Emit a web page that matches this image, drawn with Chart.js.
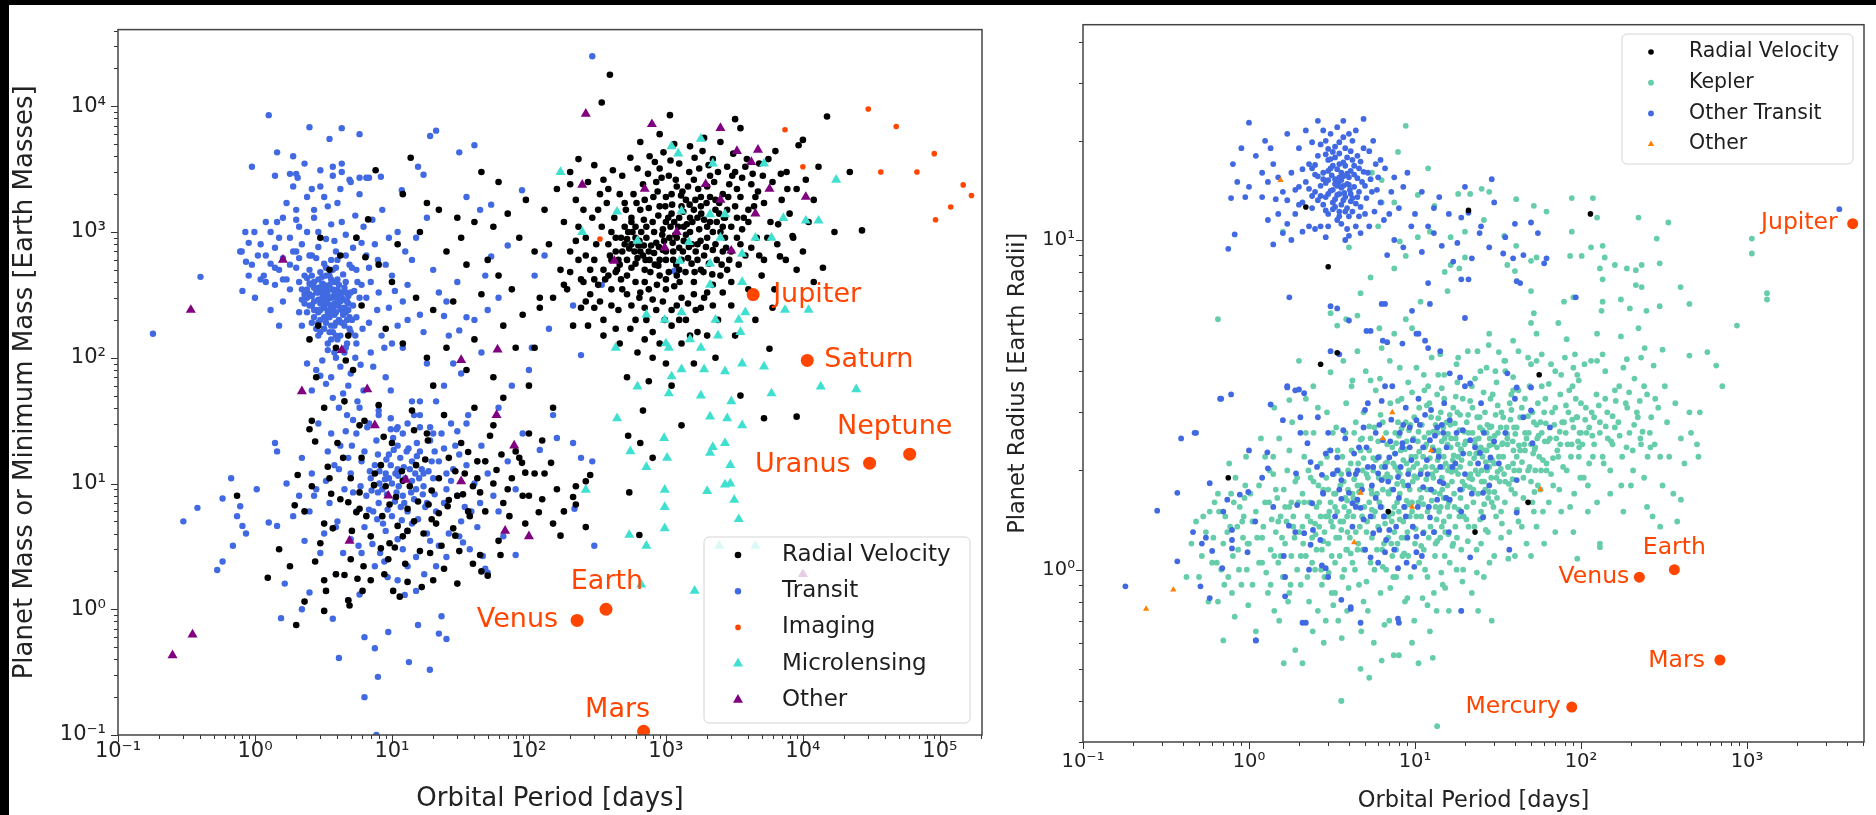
<!DOCTYPE html>
<html lang="en">
  <head>
    <meta charset="UTF-8" />
    <title>Exoplanets: mass and radius against orbital period</title>
    <script src="https://cdn.jsdelivr.net/npm/chart.js"></script>
    <style>
      body {
        margin: 0;
        width: 1876px;
        height: 815px;
        background: #000;
        position: relative;
        overflow: hidden;
      }
      .sheet {
        position: absolute;
        left: 9px;
        top: 5px;
        width: 1867px;
        height: 810px;
        background: #fff;
      }
      canvas {
        position: absolute;
        top: 5px;
      }
      #massChart { left: 9px; width: 991px; height: 810px; }
      #radiusChart { left: 1000px; width: 876px; height: 810px; }
    </style>
  </head>
  <body>
    <div class="sheet"></div>
    <canvas id="massChart" width="991" height="810"></canvas>
    <canvas id="radiusChart" width="876" height="810"></canvas>

    <script>
      // ---- left panel: [orbital period (days), mass (Earth masses)] ----
      const rvMass = [
        [390,17800],[340,10700],[15000,8300],[1070,8500],[3200,7900],[3500,6700],[10000,5400],[9300,4900],[22000,3000],
        [27000,1030],[17000,1000],[14000,520],[8400,930],[6800,640],[5700,118],[3500,50],[680,38],[5200,33],[9000,34],
        [540,8.5],[640,3.9],[1300,29],[800,16],[650,21],[530,24],
        [540,740],[600,900],[450,600],[700,500],[800,1200],[1000,700],[1200,900],[900,450],[650,1500],[380,800],
        [500,1100],[750,350],[1100,1400],[1300,600],[1500,1000],[350,500],[420,1300],[580,2000],[850,2500],[1100,2000],
        [1400,1800],[1700,1300],[2000,900],[2300,1500],[2600,700],[3000,1100],[1800,500],[1600,400],[1300,300],[950,280],
        [700,250],[520,320],[400,350],[300,600],[260,900],[320,1500],[380,2200],[480,2800],[620,3200],[760,4000],
        [900,3200],[1050,2800],[1250,3500],[1600,2600],[2000,2300],[2400,3000],[2900,2400],[3500,1900],[4200,2400],[5200,1700],
        [4000,1200],[3500,800],[2800,500],[2200,380],[1800,250],[1400,200],[1100,180],[800,160],[600,200],[450,240],
        [330,280],[250,400],[200,700],[180,1200],[220,1800],[270,2500],[300,3400],[550,3900],[650,5200],[900,6000],
        [1150,5000],[1500,4800],[1900,5600],[2500,5200],[3100,4200],[3800,3300],[4800,3500],[6000,2500],[7000,1800],[5800,1200],
        [4600,900],[5200,600],[6500,800],[8000,1400],[9000,2200],[2100,1200],[1700,800],[1350,1100],[1250,750],[950,1050],
        [850,820],[720,900],[680,650],[560,520],[480,700],[600,400],[760,600],[900,600],[1050,480],[1150,370],
        [1250,500],[1450,620],[1650,700],[1900,650],[2200,720],[2500,1000],[2700,1300],[3200,1600],[3700,1300],[4400,1600],
        [3300,900],[2900,600],[2500,450],[2000,330],[1600,320],[1200,260],[1000,350],[800,290],[640,300],[520,450],
        [440,500],[360,420],[320,380],[280,320],[240,250],[210,180],[350,150],[460,130],[620,110],[800,100],
        [1000,90],[1300,130],[1700,160],[2400,200],[3000,260],[4000,350],[5000,450],[6200,350],[9000,500],[11000,1200],
        [12000,1800],[10500,2600],[13000,3300],[7600,3000],[500,1700],[700,1800],[900,1600],[1150,1200],[1300,1600],[1600,1500],
        [1800,1900],[2100,2800],[2600,2000],[3200,3000],[430,900],[560,1200],[720,1100],[880,1350],[1000,1900],[1200,2300],
        [1450,2300],[1750,3200],[2200,3800],[2800,3300],[620,620],[780,780],[970,850],[1130,600],[1350,850],[1550,800],
        [1750,1050],[2000,1100],[2350,1200],[2700,900],[400,1000],[340,1100],[520,880],[660,1000],[820,1000],[1080,1100],
        [1250,1300],[1500,1300],[1800,1600],[2300,1800],[590,700],[690,780],[470,420],[400,600],[280,500],[230,600],
        [190,350],[170,500],[150,300],[140,800],[130,1500],[160,2200],[200,3000],[230,3800],[120,250],[110,120],
        [600,560],[750,700],[880,540],[1000,600],[470,900],[560,800],[640,850],[820,680],[950,720],[1120,820],
        [1400,950],[520,600],[430,700],[380,450],[700,400],[860,380],[1000,420],[1200,450],[300,420],[260,280],
        [560,1300],[610,1700],[680,2400],[740,2900],[830,3600],[960,4300],[1080,3700],[1180,2600],[1320,2100],[1480,3000],
        [1620,3900],[1850,4400],[2050,3400],[2250,2500],[2450,1700],[2650,1300],[2850,1900],[3050,2800],[3300,2200],[3600,2700],
        [3900,3800],[4300,2900],[4700,2100],[5100,2800],[5600,3800],[6300,4400],[6900,2900],[7700,2200],[350,2600],[410,3100],
        [460,2000],[510,1500],[570,1000],[630,780],[690,1250],[750,1550],[810,1900],[870,2100],[930,2700],[990,1600],
        [1040,1300],[1110,1650],[1170,950],[1230,1100],[1290,1950],[1340,1450],[1420,1150],[1490,1650],[1560,1200],[1640,1800],
        [1720,2200],[1810,1400],[1900,1250],[1980,1700],[2100,1900],[2200,1000],[2300,800],[2450,1400],[2600,1100],[2800,1500],
        [460,550],[500,800],[530,1000],[600,1100],[650,700],[710,600],[770,480],[830,550],[890,760],[940,950],
        [1000,1200],[1060,900],[1130,700],[1190,550],[1260,400],[1330,700],[1390,480],[1470,760],[1540,560],[1620,480],
        [1700,600],[1790,850],[1880,480],[1960,760],[2060,560],[2180,460],[2350,600],[2550,550],[2750,750],[3000,700],
        [3400,550],[3800,650],[4200,750],[4800,650],[5500,900],[6600,1150],[3300,1300],[3600,1050],[4000,1500],[4500,1900],
        [230,1100],[260,650],[290,1300],[310,800],[330,2000],[370,1700],[390,650],[430,480],[250,1500],[200,2400],
        [180,380],[200,480],[220,850],[240,420],[270,180],[300,250],[350,200],[400,260],[480,350],[560,260],
        [650,330],[720,200],[850,240],[980,200],[1100,240],[1250,200],[1450,270],[1650,240],[1900,300],[2200,260],
        [2600,330],[3000,400],[1500,150],[2000,150],[900,130],[700,140],[550,170],[430,170],[520,70],[750,65],
        [1100,60],[1600,90],[2300,100],[3200,150],[4500,200],[6000,250],[7500,600],[8500,900],[10000,700],[12000,400],
        [13.7,3900],[7.6,3100],[6.7,1260],[6.4,630],[12,2000],[18,1700],[22,1500],[30,1300],[40,1200],[55,1100],
        [70,1400],[85,900],[25,700],[35,550],[50,600],[60,450],[45,320],[28,280],[20,240],[15,300],
        [10,400],[8,550],[11,800],[16,1000],[32,900],[75,350],[90,220],[65,180],[40,140],[25,120],
        [18,100],[12,130],[9,170],[6,260],[20,60],[35,80],[55,70],[80,120],[100,60],[120,300],
        [110,700],[95,1800],[60,2500],[45,3000],[5.5,900],[4.2,650],[3.5,500],[3.0,900],[4.8,150],[5.2,80],
        [2.8,70],[2.9,180],[3.9,120],[4.6,95],[2.5,140],
        [2.05,11.7],[1.95,6.7],[2.75,21.6],[3.4,13.6],[3.6,8.3],[3.2,4.8],[3.7,4.4],[3.0,3.35],[2.75,2.4],[3.2,1.7],
        [3.3,1.4],[4.8,1.18],[4.9,1.07],[3.2,0.97],[2.0,0.75],[1.24,1.78],[0.74,8.0],[3.9,1.9],[4.5,1.87],[5.6,1.75],
        [7.0,1.7],[10.2,1.4],[11.4,1.26],[13,1.65],[20,1.7],[8.3,3.05],[9.4,2.5],[19,2.8],[31,2.9],[39,2.3],
        [50,1.85],[29,3.85],[60,3.5],[62,2.7],[94,4.8],[150,4.8],[170,3.85],[260,4.5],[210,7.8],[220,6.8],
        [260,10.4],[280,11.7],[125,22],[145,14.6],[100,25],[89,14.6],[94,12.2],[63,17],[58,12.8],[52,24],
        [55,29],[36,17.8],[32,21],[14.5,26.5],[18,25],[18.3,22],[10,21],[8.7,23.5],[5.8,29],[6.3,31.5],
        [4,21],[2.6,31.5],[2.5,27],[5.8,6.3],[5.5,5.9],[4.8,7.1],[5.8,8.5],[10.7,7.8],[13,6.3],[14.5,5],
        [18.5,6.8],[19.5,5.2],[16,2.9],[11,4.6],[9.6,3.35],[28,4.4],[44,2.7],[45,2.0],[25.5,6.6],[39,9.5],
        [44,8.5],[125,7.5],[118,5.9],[220,9.5],[7.5,12],[9,9.5],[12,10.5],[15,14],[22,11],[26,16],
        [30,8],[34,12],[42,15],[48,6],[70,9],[80,18],[110,12],[160,9],[6,16],[5,11],
        [3.2,40],[4.5,45],[8,42],[14,38],[24,35],[40,40],[65,48],[150,40],[1.5,3],[1.8,2.2],
        [2.3,1.15],[6.2,2.2],[8.5,5.5],[12,3.8],[17,4],[23,3.2],[36,6],[72,5.5],[90,8],
        [2.3,6],[2.6,9.5],[3.5,11],[4.2,7.5],[4.4,16],[5.1,4.2],[6.5,5.5],[7.4,9.7],[8.3,14],[9.6,6.8],
        [10.5,3.1],[11.8,12.5],[13.5,9.5],[15.5,7.2],[17.5,15.5],[19.5,8.8],[22,5.8],[26,7.4],[29,12.5],[33,8.2],
        [37,5.5],[42,11],[48,15],[55,10],[65,7],[75,11],[85,16],[100,8],[130,12],[180,6],
        [6.1,1.4],[8.8,1.9],[12.5,2.3],[16.5,1.5],[24,2.1],[30,1.6],[5,2.5],[7,3.8],[13,4.2],[21,4.8]
      ];
      const transitMass = [
        [0.18,155],[0.4,440],[0.81,340],[0.99,1000],[0.78,700],[0.86,580],[1.16,450],[1.45,1200],[1.26,8500],[4.3,6700],
        [5.8,6000],[19,5800],[21,6400],[40,4900],[31,4300],[0.95,3300],[1.45,4300],[1.9,4000],[1.8,2900],[2.05,2700],
        [3.7,3300],[4.3,3000],[5.8,2700],[6.8,2700],[8.3,2750],[15.5,3300],[17,2850],[11.8,2150],[35,1900],[44,1500],
        [53,1650],[70,780],[89,2150],[53,640],[48,450],[110,450],[130,650],[140,170],[240,105],[340,380],
        [1150,490],[105,120],[210,260],[50,240],[35,210],[24,215],[31,165],[290,25000],
        [0.3,5.0],[0.38,6.4],[0.53,2.05],[0.58,2.4],[0.69,3.2],[0.67,11],[0.58,7.6],[0.74,5.5],[0.78,6.6],[0.81,4.6],
        [0.86,4.0],[1.03,9.0],[1.26,4.9],[1.45,4.6],[1.4,21],[1.45,18],[1.65,1.6],[1.55,0.85],[2.2,1.0],[2.5,1.36],
        [3.7,0.84],[4.1,0.41],[6.3,0.6],[7.5,0.49],[7.9,0.29],[6.3,0.2],[7.7,0.1],[9.4,0.66],[13.3,0.38],[15.5,0.75],
        [18.9,0.33],[23,0.88],[25,0.58],[22,0.64],[4.8,1.18],[5.8,1.31],[11,1.7],[3.9,1.9],[15,1.4],[300,3.2],
        [215,6.3],[290,15],[240,16],[210,21],[120,18.5],[160,23],[80,2.7],[46,2.65],[48,2.1],[50,1.95],[37,3.0],
        [3.5,300],[3.2,250],[2.9,420],[4.1,380],[2.5,500],[3.8,220],[4.5,180],[2.2,350],[3.0,160],[3.6,600],
        [2.7,280],[4.8,310],[3.3,450],[2.4,230],[4.0,140],[5.2,260],[3.9,520],[3.1,330],[4.3,240],[2.6,190],
        [3.4,130],[5.6,400],[2.8,620],[4.6,120],[3.7,350],[5.0,160],[4.4,460],[2.6,380],[3.3,210],[5.3,340],
        [2.9,150],[4.9,550],[3.8,110],[2.2,180],[4.0,270],[3.6,420],[2.5,320],[3.2,560],[4.7,200],[2.8,240],
        [3.9,300],[3.4,270],[3.0,200],[4.2,330],[2.7,360],[3.6,180],[4.4,290],[3.1,390],[3.7,250],[2.9,290],
        [4.6,230],[3.5,210],[2.4,430],[3.3,350],[4.1,200],[3.8,400],[2.6,260],[3.0,480],[5.5,210],[4.9,170],
        [4.2,150],[3.6,140],[5.8,300],[3.2,170],[2.3,270],[4.5,360],[3.4,310],[2.8,330],[4.0,420],[3.9,230],
        [3.1,270],[4.7,280],[2.7,210],[3.5,380],[3.7,160],[5.1,200],[3.0,240],[2.5,390],[3.3,290],[4.3,300],
        [2.9,360],[2.1,400],[3.5,240],[4.8,240],[2.0,520],[3.9,190],[2.6,450],[4.2,250],[3.2,320],[3.8,270],
        [2.3,320],[5.4,150],[2.9,190],[3.6,300],[4.6,330],[2.4,300],
        [3.4,340],[3.0,270],[3.8,320],[2.7,400],[4.2,280],[3.2,380],[2.5,260],[3.6,230],[4.5,250],[2.9,330],
        [3.3,190],[4.0,350],[3.1,440],[3.9,260],[2.6,310],[4.8,270],[3.5,160],[2.2,290],[4.3,190],[3.7,500],
        [2.8,170],[5.0,330],[3.4,230],[2.4,350],[4.1,310],[3.0,350],[3.6,260],[2.9,230],[4.6,400],[3.2,210],
        [3.8,180],[2.7,240],[4.4,220],[3.1,300],[3.5,450],[2.3,450],[4.9,210],[3.3,520],[2.6,650],[4.0,600],
        [5.5,500],[6.0,380],[6.5,300],[2.0,700],[1.8,550],[1.6,420],[1.4,520],[2.1,230],[3.9,150],[4.7,130],
        [3.1,95],[4.2,85],[5,75],[3.6,70],[2.8,80],[4.8,60],[6.2,55],[5.4,100],[3.9,100],[2.4,90],
        [3.3,62],[4.5,110],[3.7,48],[5.6,45],[4.1,40],[2.6,55],[3.4,115],[5.9,88],[4.4,52],[3.0,72],
        [1.5,500],[1.4,380],[1.2,650],[1.6,280],[1.8,900],[1.3,1000],[1.1,800],[0.9,450],[0.8,700],[1.0,300],
        [0.95,550],[1.3,240],[1.5,180],[1.2,400],[2.1,1100],[2.7,1300],[3.4,1600],[2.4,1900],[4.3,1200],[3.0,2300],
        [2.0,1500],[5.5,900],[6.5,650],[7.0,400],[8.0,330],[6.2,1100],[7.5,800],[9.0,550],[10,450],[8.5,1500],
        [11,1000],[5.8,2000],[4.9,2600],[3.7,2800],[2.6,2200],[1.7,1700],[1.4,2800],[2.3,3500],[3.5,5500],[2.5,6800],
        [2.0,2900],[4.3,3500],[5,2500],[6.5,2700],[3.2,1900],[2.7,1500],[2.9,1000],[3.8,850],[4.6,950],[5.2,750],
        [6.8,520],[1.9,700],[1.6,620],[1.3,560],[1.1,420],[1.7,420],[2.2,800],[2.5,650],[2.1,620],[1.8,350],
        [1.4,750],[2.9,760],[3.3,880],[2.4,1000],[3.9,700],[4.6,650],[5.1,520],[2.0,1250],[1.6,1300],[1.2,1200],
        [1.5,900],[3.6,1150],[4.0,1700],[5.4,1350],[7.2,1250],[6.0,820],[7.9,600],[9.5,900],[12.5,700],[4.2,2200],
        [3.0,3100],[1.9,2300],[0.85,1000],[0.9,820],[1.05,650],
        [12,280],[14,600],[15,900],[18,1300],[13,380],[16,220],[20,500],[22,330],[9.5,250],[11,180],
        [7.8,240],[6.1,170],[5.5,130],[7.0,110],[8.4,150],[10,130],[12,120],[26,150],[30,400],[18,90],
        [24,60],[14,45],[9,70],[8,35],[11,28],[16,35],[20,25],[28,90],[40,200],[60,300],
        [45,110],[75,60],[60,40],[35,30],[100,80],[150,35],[25,280],[17,160],[13,200],[7.3,85],
        [6.6,28],[5.2,32],[4.6,26],[9.8,55],[21,45],[32,75],[6.8,190],[8.8,120],[10.5,340],
        [10,10],[12,8],[9,12],[14,15],[8,7],[11,20],[15,9],[13,6],[17,12],[7.5,14],
        [10,5.5],[16,18],[12,25],[9.5,17],[18,7],[20,11],[8.5,9],[11,13],[14,4.8],[6.5,8],
        [7,11],[5.5,6],[6,15],[13,30],[16,28],[19,22],[22,15],[25,9],[21,6],[28,13],
        [24,19],[30,8],[35,14],[32,5],[26,4],[40,10],[45,20],[38,6],[50,12],[55,8],
        [4.5,9],[4.0,5],[3.5,7],[5.0,12],[3.2,4],[2.8,9],[2.5,6],[3.8,14],[4.2,20],[5.5,25],
        [6.8,30],[8,38],[9,4.2],[11,3.6],[7.2,3.3],[12,3],[15,2.6],[19,3.5],[6,2.8],[5,3.6],
        [4.4,2.8],[8.8,2.4],[10.5,7.2],[12.5,11],[14.5,7.5],[9.2,8.2],[7.8,5.2],[11.5,16],[13.5,13],[10.2,23],
        [17,9.5],[19.5,15],[23,25],[27,30],[15.5,5.2],[18,4],[22,3.2],[29,20],[33,3.4],[42,4.5],
        [60,6],[65,3.8],[70,15],[80,9],[90,25],[3.0,2.8],[2.3,3.5],[2.1,8],[2.6,12],[3.4,18],
        [3.6,25],[2.9,30],[4.7,35],[1.9,5.5],[1.7,10],[2.2,16],[5.8,40],[7.7,22],[9.8,33],[16,45],
        [6.3,4.5],[8.2,2.8],[13,2.2],[21,2.2],[11.2,9.5],[9.8,14],[12.8,18],[14,10.5],[16.5,13],[10.6,12],
        [8.9,10.8],[15.2,21],[12.3,7],[7.1,8.8],[6.3,18],[5.2,8.5],[4.8,16],[20.5,8.2],[25,12],[30,26],
        [36,35],[9.3,6.2],[11.8,5.1],[13.8,8.5],[15.8,11],[7.9,17],[10.8,27],[17.5,6.5],[8.1,12.5],[6.8,6.2],
        [9.5,11],[10.8,8.5],[12.2,13.5],[8.1,10],[11.6,6.5],[14.8,12],[7.3,6],[13.2,19],[16.8,8.2],[9.1,15.5],
        [18.5,12.5],[6.9,12.5],[10.3,18.5],[12.9,4.2],[15.2,16.5],[8.6,4.8],[20.5,18],[11.1,11.5],[5.9,9.5],[7.9,8.5],
        [24,7],[27,10.5],[31,17],[34,6.5],[19,28],[14.5,35],[9.8,27],[5.1,20],[4.1,13],[3.3,10.5],
        [2.7,8],[3.9,4.5],[5.7,3.2],[7.5,2.2],[9.3,1.8],[12.4,1.3],[17.2,1.9],[25,2.6],[31,3.8],[44,7]
      ];
      const imagingMass = [
        [7400,6500],[10000,3300],[30000,9500],[48000,6900],[37000,3000],[68000,3000],
        [91000,4200],[93000,1250],[148000,2370],[170000,1950],[120000,1580],[330,880]
      ];
      const microlensingMass = [
        [170,3000],[440,1450],[245,1000],[1100,4800],[1800,5500],[1230,4200],[2200,3500],[5200,3500],[17500,2600],[1300,1470],
        [2100,1380],[2700,1380],[7200,1290],[10500,1230],[13000,1230],[620,850],[1470,830],[2500,900],[4500,900],[5900,900],
        [1260,590],[2100,560],[3600,670],[2100,380],[3600,400],[720,220],[980,200],[1300,230],[2300,200],[3400,200],
        [3800,230],[7400,240],[11000,240],[1000,130],[1500,140],[2400,150],[3500,160],[430,120],[1050,120],[1800,120],
        [620,59],[1100,71],[1300,81],[1900,81],[2700,78],[3600,90],[5200,85],[13500,59],[24500,56],[1050,52],
        [1800,50],[3000,45],[5900,52],[440,33],[2100,34],[2800,33],[3600,29],[550,18],[970,23],[720,13.5],
        [1020,16],[2200,19.5],[2100,17.5],[2700,21],[2950,14],[260,8.9],[980,8.9],[2000,8.7],[2700,9.8],[2950,10],
        [3150,7.4],[3400,5.2],[980,6.5],[980,4.4],[540,3.9],[720,3.2],[2450,3.2],[4500,3.2],[660,1.57],[1620,1.4]
      ];
      const otherMass = [
        [0.25,0.43],[0.35,0.63],[0.34,240],[1.6,600],[260,8700],[790,7200],[2500,6700],[245,2370],[700,2200],[1950,2400],
        [3300,4400],[4700,4500],[4200,3600],[5700,2200],[10500,1900],[2500,1800],[4500,1400],[1200,1000],[980,750],[3000,710],
        [420,590],[4.3,115],[2.2,54],[6.6,56],[32,96],[59,116],[7.5,29],[58,35],[78,20],[12.6,10.7],
        [9.4,8],[32,10.4],[4.9,3.5],[67,4.2],[100,3.8],[10000,1.9]
      ];
      const massPlanetNames = ['Venus', 'Earth', 'Mars', 'Jupiter', 'Saturn', 'Uranus', 'Neptune'];
      const massPlanetPeriod = [224.7, 365.25, 687, 4333, 10759, 30687, 60190];
      const massPlanetMass = [0.815, 1, 0.107, 317.8, 95.2, 14.5, 17.1];

      // ---- right panel: [orbital period (days), radius (Earth radii)] ----
      const rvRadius = [
        [2.2,12.6],[21,12.3],[114,12],[3.0,8.3],[3.4,4.55],[2.7,4.2],[56,3.9],[0.75,1.9],[48,1.6],[23,1.3],[6.9,1.5]
      ];
      const keplerRadius = [
        [8.8,22.2],[7.9,18.5],[6.3,15.2],[6.3,13],[10.4,13.7],[13.1,12.7],[18.2,13.8],[21.5,13.8],[25.2,14.3],[28,14],
        [40.7,13.3],[52,12.7],[62,12.2],[88,13.4],[118,13.4],[125,11.7],[222,11.7],[336,11.3],[286,10.1],[135,9.6],
        [88,10.6],[115,9.5],[101,8.95],[86,8.95],[139,8.85],[160,8.4],[189,8.2],[214,8.1],[232,8.4],[298,8.5],
        [130,8.2],[135,7.6],[214,7.3],[232,7.2],[398,7.2],[450,6.4],[298,6.3],[248,6.1],[197,6.2],[174,6.6],
        [135,6.5],[133,6.1],[90,6.7],[79,6.5],[73,5.6],[82,5.0],[125,5.2],[174,5.1],[222,5.4],[242,4.7],
        [310,4.65],[189,4.35],[125,4.3],[90,4.1],[274,4.16],[450,4.46],[577,4.57],[653,4.16],[710,3.6],[50,7.0],
        [52,6.0],[50,5.6],[54,5.2],[39,4.95],[32,4.57],[34.5,4.3],[28,5.2],[15.7,7.0],[15.1,8.0],[16.4,8.4],
        [18.5,8.2],[20,8.85],[36,8.4],[40,8.05],[50,8.65],[54,8.85],[40.7,9.6],[34.5,10.3],[26,11.5],[20,10.6],
        [16.4,10.2],[12.3,10.6],[10.4,10.2],[8.1,9.9],[8.8,8.95],[7.5,8.2],[5.4,7.7],[4.7,6.9],[3.85,5.75],[3.4,5.5],
        [3.1,6.0],[4.5,5.9],[8.8,5.75],[10.8,6.5],[9.6,5.4],[7.5,5.2],[6.1,5.4],[6.3,4.7],[4.5,4.6],[3.7,4.3],
        [3.1,3.97],[4.2,3.75],[5.4,3.75],[8.1,4.1],[11.3,3.9],[14.2,4.5],[18.2,4.4],[23.8,4.6],[30.5,4.0],[39,3.84],
        [54,4.3],[76,3.9],[64,3.66],[97,3.75],[2.0,4.3],[2.44,3.6],[1.75,3.27],[0.65,5.75],[1.42,3.1],[1070,10.1],
        [1070,9.1],[1320,6.9],[1320,6.6],[870,5.5],[1.6,10.6],[5.5,16],[7.5,13],[6,11],[4,9.5],[12,16.5],
        [0.55,1.3],[0.6,1.05],[0.62,1.6],[0.65,0.8],[0.7,1.2],[0.72,1.45],[0.75,0.95],[0.78,1.7],[0.8,1.1],[0.82,0.72],
        [0.85,1.35],[0.88,1.55],[0.9,0.9],[0.92,1.25],[0.95,1.8],[0.97,1.0],[0.58,1.5],[0.68,1.0],[0.74,1.3],[0.86,1.15],
        [0.93,1.45],[0.99,0.78],[0.5,0.95],[0.45,1.2],[0.7,0.61],[0.76,2.1],[0.65,1.7],[0.83,1.9],[0.96,2.2],[0.53,1.45],
        [1.0,1.2],[1.05,0.9],[1.1,1.5],[1.1,0.65],[1.15,1.8],[1.2,1.05],[1.22,1.35],[1.25,2.2],[1.3,0.85],[1.32,1.6],
        [1.35,1.15],[1.4,1.95],[1.42,0.75],[1.45,1.3],[1.5,1.05],[1.52,2.5],[1.55,1.45],[1.6,0.95],[1.62,1.75],[1.65,1.2],
        [1.7,2.0],[1.72,0.8],[1.75,1.55],[1.8,1.1],[1.82,2.8],[1.85,1.35],[1.9,0.57],[1.9,1.85],[1.95,1.0],[1.98,1.6],
        [1.02,1.7],[1.12,1.25],[1.27,0.98],[1.37,1.42],[1.48,1.65],[1.58,1.25],[1.68,1.4],[1.78,0.9],[1.88,1.25],[1.18,2.5],
        [1.33,2.0],[1.52,0.7],[1.75,2.3],[1.42,1.1],[1.62,0.52],
        [2.0,1.3],[2.05,0.9],[2.1,1.7],[2.1,0.52],[2.15,2.2],[2.2,1.1],[2.25,1.45],[2.3,0.8],[2.35,1.9],[2.4,1.25],
        [2.45,2.6],[2.5,1.0],[2.55,1.55],[2.6,0.75],[2.65,1.35],[2.7,2.1],[2.75,1.15],[2.8,1.75],[2.85,0.95],[2.9,1.45],
        [2.95,3.0],[3.0,1.2],[3.05,2.3],[3.1,1.6],[3.15,0.85],[3.2,1.35],[3.25,1.95],[3.3,1.05],[3.35,2.7],[3.4,1.5],
        [3.45,0.7],[3.5,1.25],[3.55,1.8],[3.6,0.4],[3.65,2.2],[3.7,1.4],[3.75,1.0],[3.8,1.65],[3.85,3.2],[3.9,1.15],
        [3.95,2.0],[2.12,1.2],[2.32,1.6],[2.52,1.28],[2.72,1.0],[2.92,1.9],[3.12,1.4],[3.32,1.7],[3.52,1.1],[3.72,1.85],
        [3.92,1.3],[2.28,2.0],[2.62,1.8],[3.02,0.98],[3.42,2.3],[3.82,2.6],[2.42,0.65],[2.82,0.6],[3.22,0.78],[3.62,0.62],
        [3.98,0.88],[2.2,3.3],[2.6,3.1],
        [4.0,1.5],[4.1,2.1],[4.2,1.05],[4.3,2.6],[4.4,1.3],[4.5,1.8],[4.6,0.9],[4.7,2.3],[4.8,1.45],[4.9,3.0],
        [5.0,1.15],[5.1,1.95],[5.2,0.75],[5.3,1.6],[5.4,2.5],[5.5,1.25],[5.6,2.0],[5.7,1.0],[5.8,3.5],[5.9,1.7],
        [6.0,1.35],[6.1,2.2],[6.2,0.85],[6.3,1.55],[6.4,2.8],[6.5,1.2],[6.6,1.9],[6.7,1.0],[6.8,2.4],[6.9,1.45],
        [7.0,0.7],[7.1,3.2],[7.2,1.75],[7.3,1.1],[7.4,2.1],[7.5,1.3],[7.6,2.6],[7.7,0.95],[7.8,1.6],[7.9,2.0],
        [4.25,1.65],[4.55,1.2],[4.85,2.0],[5.15,1.4],[5.45,1.75],[5.75,1.5],[6.05,1.9],[6.35,1.15],[6.65,2.1],[6.95,1.7],
        [7.25,1.4],[7.55,2.25],[7.85,1.2],[4.15,3.6],[5.05,4.0],[6.15,3.8],[7.05,4.3],[4.75,0.65],[5.65,0.6],[6.55,0.68],
        [7.45,0.55],[5.3,0.47],[4.7,0.5],
        [8.0,1.5],[8.2,2.3],[8.4,1.1],[8.6,1.8],[8.8,2.8],[9.0,1.3],[9.2,2.0],[9.4,0.95],[9.6,1.6],[9.8,2.5],
        [10,1.2],[10.3,1.9],[10.6,3.1],[10.9,1.45],[11.2,2.2],[11.5,1.0],[11.8,1.75],[12.1,2.6],[12.4,1.35],[12.7,2.05],
        [13,0.85],[13.3,1.55],[13.6,3.4],[13.9,2.3],[14.2,1.25],[14.5,1.9],[14.8,2.7],[15.1,1.1],[15.4,1.65],[15.7,2.4],
        [8.1,1.95],[8.5,1.4],[8.9,2.1],[9.3,1.75],[9.7,1.35],[10.1,2.2],[10.5,1.6],[10.9,2.0],[11.3,1.3],[11.7,2.4],
        [12.1,1.55],[12.5,2.9],[12.9,1.9],[13.3,1.2],[13.7,2.15],[14.1,1.7],[14.5,2.45],[14.9,1.4],[15.3,2.1],[15.7,1.8],
        [8.3,3.3],[9.1,3.7],[10.2,4.1],[11.4,3.5],[12.6,4.4],[13.8,3.9],[15.0,3.3],[8.7,0.8],[9.9,0.7],[11.1,0.82],
        [12.3,0.65],[13.5,0.75],[14.7,0.9],[10.5,0.52],[13.6,0.335],[12.8,0.54],[9.6,0.6],[8.0,0.55],[6.3,0.53],[3.6,0.4],
        [16,1.6],[16.5,2.5],[17,1.2],[17.5,2.0],[18,3.0],[18.5,1.45],[19,2.3],[19.5,1.0],[20,1.8],[20.5,2.8],
        [21,1.35],[21.5,2.1],[22,3.6],[22.5,1.6],[23,2.4],[23.5,1.15],[24,1.95],[24.5,2.9],[25,1.5],[25.5,2.2],
        [26,0.95],[26.5,1.75],[27,2.6],[27.5,1.3],[28,2.05],[28.5,3.3],[29,1.6],[29.5,2.4],[30,1.1],[31,1.9],
        [16.2,2.05],[17.2,1.7],[18.2,2.2],[19.2,1.75],[20.2,2.45],[21.2,1.9],[22.2,2.6],[23.2,2.0],[24.2,2.5],[25.2,1.85],
        [26.2,2.3],[27.2,2.0],[28.2,2.7],[29.2,2.15],[30.2,2.55],[31.2,1.65],[17.8,4.2],[20.8,4.6],[24.8,4.0],[27.8,4.8],
        [16,0.75],[19,0.75],[24,0.75],[29,0.7],[22,0.85],
        [32,2.2],[33,1.5],[34,2.9],[35,1.85],[36,2.5],[37,1.3],[38,3.4],[39,2.1],[40,1.7],[41,2.7],
        [42,1.4],[43,2.3],[44,3.1],[45,1.9],[46,2.6],[47,1.2],[48,2.0],[49,3.6],[50,2.4],[51,1.6],
        [52,2.8],[53,2.0],[54,1.35],[55,3.2],[56,2.2],[57,1.75],[58,2.6],[59,1.5],[60,3.0],[62,2.1],
        [33.5,2.4],[36.5,2.05],[39.5,2.7],[42.5,2.0],[45.5,2.4],[48.5,2.6],[51.5,2.25],[54.5,2.5],[57.5,2.0],[60.5,2.45],
        [35,4.3],[42,4.6],[50,4.2],[58,4.5],[40,1.1],[50,1.1],[60,1.2],
        [65,2.5],[68,1.8],[70,3.1],[73,2.2],[76,1.5],[79,2.8],[82,2.0],[85,3.5],[88,2.4],[91,1.7],
        [94,2.9],[97,2.2],[100,3.2],[104,1.9],[108,2.6],[112,2.1],[116,3.0],[120,2.4],[125,1.6],[130,2.8],
        [135,2.2],[140,3.3],[145,2.5],[70,1.3],[90,1.3],[110,1.5],[130,1.2],[66,4.2],[80,4.4],[95,3.9],
        [115,4.3],[140,4.0],[75,2.4],[100,2.6],[120,2.9],[130,1.17],[95,1.08],
        [150,2.0],[160,2.7],[175,1.8],[190,3.1],[205,2.3],[220,2.9],[240,1.9],[260,2.6],[280,3.3],[300,2.2],
        [330,2.8],[360,1.7],[400,2.5],[450,3.0],[500,2.4],[170,3.6],[210,3.8],[250,3.4],[180,1.5],[270,1.45],
        [380,1.4],[155,2.4],[230,2.4],[320,3.6],[510,2.2],[400,1.63],[310,1.8],[300,1.35],
        [5.1,1.3],[5.3,2.3],[5.5,1.7],[5.7,2.7],[5.9,1.15],[6.1,1.6],[6.3,2.05],[6.5,1.45],[6.7,2.6],[6.9,1.25],
        [7.1,1.9],[7.3,2.35],[7.5,1.55],[7.7,1.15],[7.9,2.8],[8.1,1.7],[8.3,1.25],[8.5,2.15],[8.7,1.55],[8.9,2.45],
        [9.1,1.1],[9.3,1.45],[9.5,2.2],[9.7,1.85],[9.9,2.9],[5.2,1.9],[5.6,1.45],[6.0,2.45],[6.4,1.75],[6.8,1.95],
        [7.2,1.2],[7.6,2.05],[8.0,2.55],[8.4,1.85],[8.8,1.25],[9.2,2.65],[9.6,1.5],[9.8,2.05],[5.4,1.05],[7.4,0.95],
        [10.2,1.45],[10.4,2.45],[10.7,1.75],[11.0,2.75],[11.3,1.15],[11.6,2.05],[11.9,1.5],[12.2,3.2],[12.5,1.75],[12.8,2.35],
        [13.1,1.3],[13.4,2.0],[13.7,2.6],[14.0,1.5],[14.3,3.0],[14.6,1.75],[14.9,2.2],[15.2,1.3],[15.5,2.8],[15.8,2.0],
        [16.1,1.45],[16.4,2.35],[16.7,1.85],[17.0,3.1],[17.3,1.55],[17.6,2.5],[17.9,1.25],[18.2,1.95],[18.5,2.65],[18.8,1.65],
        [19.1,2.15],[19.4,3.3],[19.7,1.45],[10.3,2.1],[10.9,1.65],[11.5,2.35],[12.1,1.25],[12.7,1.95],[13.3,2.75],[13.9,2.25],
        [14.5,1.35],[15.1,2.5],[15.7,1.55],[16.3,2.75],[16.9,2.15],[17.5,1.35],[18.1,2.4],[18.7,2.95],[19.3,1.85],[19.9,2.4],
        [10.6,1.05],[11.9,0.95],[13.2,1.1],[14.4,0.98],[16.2,1.05],[17.8,1.0],[19.0,1.15],[12.0,3.6],[15.0,3.9],[18.0,3.7],
        [20.5,1.55],[21,2.6],[21.6,1.95],[22.2,3.1],[22.8,1.35],[23.4,2.25],[24,1.7],[24.6,2.7],[25.2,2.0],[25.8,1.45],
        [26.4,3.0],[27,2.3],[27.6,1.65],[28.2,2.5],[28.8,1.9],[29.4,3.4],[30,2.1],[30.8,1.45],[31.6,2.6],[32.4,1.85],
        [33.2,3.0],[34,2.2],[34.8,1.6],[35.6,2.7],[36.4,2.05],[37.2,3.2],[38,1.75],[38.8,2.45],[39.6,2.0],[21.3,2.25],
        [22.5,1.75],[23.7,2.9],[24.9,2.35],[26.1,1.85],[27.3,2.75],[28.5,2.15],[29.7,1.55],[31.2,2.35],[32.8,2.7],[34.4,1.95],
        [36,2.4],[37.6,2.85],[39.2,2.3],[23,3.8],[27,4.1],[31,3.7],[35,4.0],[39,3.5],[25,1.2],[33,1.25],
        [41,2.2],[43,2.9],[45,1.65],[47,2.5],[49,2.05],[51,3.0],[53,2.35],[55,1.8],[57,2.8],[59,2.15],
        [61,3.3],[63,2.45],[66,1.95],[69,2.75],[72,2.3],[75,3.4],[78,2.05],[81,2.6],[84,3.0],[87,2.2],
        [90,2.7],[93,3.3],[96,2.45],[99,1.9],[42,3.5],[46,2.3],[50,1.85],[54,2.75],[58,3.6],[62,2.0],
        [67,3.0],[71,2.5],[77,2.8],[83,2.4],[89,3.6],[95,2.9],[44,1.35],[52,1.5],[64,1.6],[74,1.75],
        [86,1.55],[98,2.6],[48,4.4],[70,4.0],[92,4.5],
        [102,2.4],[107,3.1],[112,2.7],[118,2.2],[124,3.4],[130,2.6],[137,2.1],[144,3.0],[152,2.45],[160,3.5],
        [168,2.8],[177,2.2],[186,3.2],[196,2.6],[206,2.0],[217,3.0],[228,2.5],[240,3.6],[252,2.2],[265,2.9],
        [278,2.4],[292,3.1],[110,1.8],[150,1.7],[200,1.8],[250,1.55],[105,4.2],[135,4.5],[180,4.1],[230,4.4],
        [340,2.2],[370,3.2],[420,2.1],[460,2.6],[520,3.0],
        [1.05,1.4],[1.15,1.05],[1.25,1.6],[1.35,0.9],[1.45,1.75],[1.55,1.1],[1.65,1.55],[1.75,0.85],[1.85,1.45],[1.95,1.9],
        [2.05,1.1],[2.15,1.6],[2.25,0.95],[2.35,1.4],[2.45,1.85],[2.55,1.15],[2.65,1.6],[2.75,0.9],[2.85,1.3],[2.95,2.2],
        [3.05,1.5],[3.15,1.1],[3.25,1.7],[3.35,1.25],[3.45,2.0],[3.55,1.4],[3.65,0.95],[3.75,1.55],[3.85,1.15],[3.95,1.75],
        [4.05,1.25],[4.15,2.3],[4.25,1.45],[4.35,1.0],[4.45,1.6],[4.55,2.1],[4.65,1.35],[4.75,1.8],[4.85,1.15],[4.95,1.55],
        [1.2,1.25],[1.5,1.4],[1.8,1.6],[2.1,1.35],[2.4,1.05],[2.7,1.45],[3.0,1.75],[3.3,0.85],[3.6,1.95],[3.9,1.45],
        [4.2,1.7],[4.5,1.15],[4.8,2.5],[1.4,2.2],[2.2,2.6],[3.2,2.6],[4.4,2.8],[2.9,0.7],[3.9,0.75],[4.9,0.8],
        [0.42,0.95],[0.48,1.4],[0.52,1.1],[0.57,0.8],[0.61,1.25],[0.66,1.5],[0.71,0.9],[0.77,1.35],[0.81,1.6],[0.87,1.0],
        [0.91,1.4],[0.98,1.2],[0.64,1.05],[0.79,0.85],[0.94,1.65],
        [5.8,2.15],[6.6,1.38],[7.7,2.42],[8.9,1.62],[9.4,2.75],[10.1,1.33],[11.4,2.52],[12.6,1.62],[13.8,2.88],[14.7,2.05],
        [15.9,1.28],[17.1,2.22],[18.4,1.52],[19.8,2.62],[21.4,1.78],[23.1,2.48],[24.7,1.42],[26.7,2.12],[28.9,2.72],[31.4,1.98],
        [6.2,2.95],[7.3,1.48],[8.3,2.68],[9.9,1.92],[11.2,1.58],[12.9,2.62],[14.3,1.55],[16.2,2.95],[18.7,2.05],[20.9,2.95],
        [22.7,2.18],[25.6,2.65],[27.9,1.72],[30.6,2.95],[33.7,2.42],[36.8,1.82],[40.2,2.58],[44.1,2.12],[47.9,2.92],[52.6,2.32],
        [5.5,1.52],[6.9,1.72],[8.1,1.42],[9.2,1.58],[10.6,2.28],[11.7,1.88],[13.1,1.72],[14.9,1.65],[16.6,1.98],[18.9,2.32],
        [20.4,1.42],[22.1,1.88],[24.3,2.28],[26.1,1.58],[28.1,2.38],[30.1,1.72],[32.9,2.02],[35.9,2.58],[38.7,1.88],[42.3,2.38],
        [4.6,1.72],[4.9,2.18],[5.3,2.72],[3.9,1.62],[4.3,1.88],[3.6,1.32],[3.3,1.55],[3.0,1.45],[2.8,1.22],[2.5,1.38],
        [7.9,3.25],[9.6,3.45],[11.8,3.15],[14.5,3.55],[17.6,3.35],[21.5,3.25],[25.9,3.45],[31.5,3.15],[38.1,3.05],[46,3.3],
        [55.5,2.55],[61.4,2.78],[67.8,2.18],[74.5,2.62],[81.2,3.15],[88.6,2.85],[97.4,2.35],[106,2.85],[117,2.55],[128,3.15],
        [141,2.72],[155,2.92],[171,2.55],[188,2.35],[209,2.75],[235,2.62],[262,2.35],[226,3.25],[195,3.45],[162,3.25],
        [6.4,1.02],[8.6,1.12],[10.9,1.18],[13.6,1.22],[16.8,1.18],[20.8,1.22],[26.7,1.32],[33.4,1.38],[41.2,1.52],[52.4,1.72],
        [4.1,1.12],[5.1,0.92],[7.1,0.88],[9.0,0.82],[11.9,0.78],[15.2,0.88],[19.3,0.92],[23.6,0.98],[28.1,1.05],[36.5,1.08],
        [4.7,2.48],[5.6,2.18],[6.8,2.12],[7.8,1.82],[8.7,2.32],[10.5,2.62],[12.3,2.18],[13.5,1.42],[15.8,2.58],[17.4,2.78]
      ];
      const otherTransitRadius = [
        [3.6,14.4],[3.2,13],[4.0,15.5],[2.8,16],[3.5,17],[4.5,13.5],[2.5,14],[3.0,12],[3.9,12.5],[4.8,15],
        [2.2,15],[3.4,11.5],[2.6,18],[3.8,19],[4.2,17.5],[5.0,12],[3.1,16.5],[2.9,13.5],[4.4,11],[3.7,13.2],
        [3.3,14.8],[2.4,12.5],[5.5,14],[4.1,13.8],[3.0,15.2],[2.7,11],[3.6,16],[4.6,16.5],[2.3,17],[5.2,16],
        [3.5,12.2],[4.3,14.5],[2.1,13],[3.9,10.8],[3.2,18.5],[2.9,20],[4.0,21],[3.4,22],[4.9,19],[5.8,17],
        [6.2,13],[2.0,19],[1.8,16],[1.6,14],[1.5,12],[1.4,17],[1.3,15],[1.2,13.5],[1.1,18],[1.0,22.7],
        [1.25,20],[1.7,21],[2.2,21.5],[2.6,23],[3.1,21],[3.7,23],[4.9,23.3],[4.4,21.5],[2.7,19.5],[3.3,17.8],
        [4.5,18],[5.6,20],[6.0,15.5],[5.3,11],[4.7,10.5],[3.8,10],[2.9,10.2],[2.3,11],[1.9,12],[1.6,10.5],
        [1.3,11.5],[0.95,13.5],[0.85,15],[0.8,17],[0.9,19],[2.0,14.5],[2.5,15.8],[3.0,17.5],[3.5,15.5],[4.1,16.2],
        [4.6,14],[3.6,11.2],[4.2,12.2],[2.8,12.8],[3.2,14.2],[3.9,14.8],[2.6,13.2],[3.4,13.7],[4.3,15.8],[3.7,17.2],
        [2.4,16.5],[5.1,13.4],[3.0,13.8],[3.8,16.8],[4.0,11.8],[3.3,12.6],[2.7,14.6],[4.7,12.6],[3.5,19.8],[2.9,18.2],
        [1.45,13.3],[1.7,11.2],[2.1,10.6],[0.75,9.4],[0.78,13.4],[0.82,10.4],[3.45,14.9],[3.75,13.9],[3.15,15.7],[4.05,14.2],
        [3.5,13.8],[3.3,15.3],[3.7,14.6],[3.1,14.1],[3.9,15.9],[2.9,14.9],[4.1,13.1],[3.4,16.4],[3.6,12.8],[3.0,16.2],
        [3.8,13.5],[3.2,12.4],[4.3,16.8],[2.8,15.3],[3.5,18.3],[4.0,14.7],[3.3,13.3],[3.7,15.6],[2.6,15.6],[4.5,15.4],
        [3.1,17.6],[3.9,17.8],[2.7,13.6],[4.2,13.4],[3.4,14.6],[3.6,15.2],[3.2,16.8],[3.8,12.2],[2.9,12.3],[4.4,12.9],
        [2.5,16.9],[4.7,17.3],[3.0,18.9],[2.3,14.3],[5.0,14.6],[2.4,13.6],[4.9,16.1],[3.5,11.8],[3.3,19.2],[4.1,18.6],
        [1.9,14.2],[2.1,16.4],[1.7,13.2],[5.4,15.3],[5.9,14.2],[2.0,12.8],[4.6,11.8],[3.7,20.5],[2.8,21.5],[1.5,15.5],
        [1.2,16],[1.0,14.5],[1.35,19],[2.4,19.8],[4.2,20],[5.3,18.6],[6.6,16.5],[7.5,15.5],[6.2,17.5],[8.5,14.5],
        [7,12],[9.5,11],[5.7,12.2],[3.0,11],[4.0,10.3],[2.5,10.8],[1.8,10],[1.4,9.7],[11,14],[13,12.5],
        [6.5,11.5],[7.2,14],[8,12.5],[7.5,10],[9,16],[8.5,9.5],[6.8,9],[10,12],[12,11],[11,9.2],
        [14,13.5],[13,10.5],[16,12],[18,9.8],[20,14.5],[22,8.8],[25,11],[28,9.5],[30,13],[35,10.2],
        [40,11.2],[45,9],[55,10.5],[60,8.5],[3600,12.4],
        [1.75,6.7],[3.1,6.3],[6.3,6.4],[6.6,6.4],[9.6,6.1],[12.3,6.4],[12,7.4],[19,7.6],[21,7.6],[41,7.5],
        [43,7.4],[93,6.7],[20,5.8],[5.4,5.3],[6.8,4.9],[10.5,5.2],[11.5,4.95],[12,4.7],[3.1,4.6],[3.5,4.5],
        [39,8.8],[34,9.1],[62,8.8],[14.5,9.6],[17,8.6],[24.5,10.5],[29,15.3],[21,12.1],[19,11.7],[50,11.3],
        [0.28,1.51],[0.37,1.71],[0.39,2.5],[0.48,2.6],[0.67,3.3],[0.78,3.4],[0.58,1.83],[0.46,1.3],[0.52,1.2],[0.6,1.14],
        [0.37,1.06],[0.51,0.89],[0.58,0.82],[0.69,1.01],[0.79,1.32],[0.79,1.16],[0.79,1.23],[0.74,1.63],[0.88,1.69],[0.99,1.72],
        [1.09,1.4],[0.98,1.13],[1.1,0.61],[1.29,2.27],[1.3,2.03],[1.35,3.17],[1.6,2.84],[1.7,3.57],[2.0,3.52],[2.15,3.43],
        [2.04,2.9],[2.04,2.6],[2.25,2.42],[2.35,2.12],[1.65,0.95],[1.65,0.83],[2.2,0.69],[1.62,1.1],[1.74,1.36],[1.92,1.96],
        [1.95,1.57],[2.15,1.29],[2.35,1.19],[2.57,2.05],[2.75,1.94],[2.79,1.71],[2.4,1.59],[2.43,1.32],[2.69,1.23],[2.75,1.03],
        [2.9,1.01],[3.0,0.95],[3.6,0.81],[4.1,0.77],[4.7,0.69],[7.9,0.71],[19,0.75],[3.4,2.19],[3.4,2.0],[3.6,1.87],
        [3.6,1.64],[4.0,1.71],[4.2,1.59],[4.5,1.63],[4.7,1.54],[4.9,1.42],[5.6,1.29],[6.1,1.32],[6.7,1.23],[7.0,1.32],
        [5.4,1.09],[6.6,1.13],[7.9,1.01],[8.9,1.05],[9.9,1.02],[10.2,1.26],[10.2,1.13],[9.7,1.35],[11.2,1.29],[5.1,2.35],
        [6.4,2.47],[6.0,2.19],[7.0,2.19],[8.4,2.42],[6.0,1.96],[6.6,2.05],[5.6,2.05],[7.9,1.91],[6.3,1.87],[8.1,2.6],
        [9.3,2.7],[10.2,2.84],[8.4,2.35],[9.7,2.47],[11.2,2.35],[12.3,2.47],[13.6,2.7],[12.9,2.3],[14.8,2.6],[16.2,2.84],
        [17.8,2.6],[19.4,2.65],[21.5,2.47],[24.6,2.26],[27,2.05],[28.5,2.19],[32,2.1],[41,1.87],[25.7,1.71],[14.2,2.05],
        [14.8,1.83],[16.2,1.63],[13.6,1.63],[12.3,1.44],[11.2,1.78],[18.7,3.83],[21.5,3.67],[16.2,3.94],[14.2,4.6],[10.2,5.2],
        [8.4,4.85],[6.4,4.95],[5.1,5.3],[4.0,5.7],[3.4,6.2],[36,3.94],[41,3.57],[50,3.57],[41,1.49],[37,1.15],
        [21.5,1.09],[25.7,1.44],[65,2.7],[51,2.42],[50,3.04],[0.18,0.89],[1.1,0.61],[2.1,0.69],[4.1,0.76],[8.0,0.69],
        [1.7,3.6],[1.9,3.5],[0.68,3.3],[0.47,2.6],[5.2,3.2],[7.3,3.6],[9.1,1.8],[4.4,1.95],[3.0,2.6],[2.6,2.9],
        [4.5,2.0],[5.5,1.8],[6.2,1.55],[7.4,1.75],[8.6,1.55],[9.5,2.15],[10.8,1.95],[12.5,1.75],[13.9,2.2],[15.5,2.35],
        [17.5,2.1],[20,1.95],[23,2.35],[26,2.6],[30,2.45],[5.8,2.6],[7.2,2.85],[8.8,3.1],[10.5,3.3],[12.5,3.05],
        [15,3.2],[4.2,1.35],[5.0,1.15],[6.0,1.05],[7.5,1.15],[9.0,1.25],[11,1.1],[13,1.3],[3.3,1.45],[2.8,1.7],
        [3.1,2.3],[3.8,2.5],[4.9,2.7],[2.3,1.0],[1.9,1.3],[1.4,1.55],[1.2,1.9],[1.0,2.3],[0.7,1.5],[0.55,1.25],
        [16,1.3],[19,1.5],[22,1.7],[28,1.8],[35,2.6],[45,2.9],[40,3.3],[25,3.2],[20,3.6],[6.6,3.6],
        [3.7,2.65],[4.3,2.25],[5.2,2.05],[6.1,2.75],[7.1,2.45],[8.2,2.05],[9.3,2.35],[10.7,2.75],[11.8,2.15],[13.2,2.55],
        [4.0,1.95],[4.8,1.75],[5.8,1.65],[6.9,1.85],[8.0,1.65],[9.1,1.95],[10.4,1.55],[11.9,1.95],[14.1,1.85],[16.8,2.05],
        [3.5,1.75],[4.4,1.55],[5.4,1.45],[6.5,1.45],[7.7,1.35],[8.8,1.45],[12.1,1.55],[15.4,1.65],[18.7,1.75],[24,2.1],
        [3.2,1.95],[2.9,2.25],[5.0,3.05],[6.3,3.25],[8.5,2.75],[11.5,2.95],[14.5,2.75],[19.5,2.25],[4.6,2.35],[7.6,2.25]
      ];
      const otherRadius = [
        [1.55,15.2],[7.3,3.0],[6.4,2.5],[12.5,2.3],[4.7,1.71],[9.6,1.55],[4.3,1.21],[57,1.75],[0.35,0.87],[0.24,0.76]
      ];
      const radiusPlanetNames = ['Mercury', 'Venus', 'Earth', 'Mars', 'Jupiter'];
      const radiusPlanetPeriod = [88, 224.7, 365.25, 687, 4333];
      const radiusPlanetRadius = [0.383, 0.949, 1, 0.532, 11.21];

      const massLegend = ['Radial Velocity', 'Transit', 'Imaging', 'Microlensing', 'Other'];
      const radiusLegend = ['Radial Velocity', 'Kepler', 'Other Transit', 'Other'];

      Chart.defaults.font.family = '"DejaVu Sans", sans-serif';
      Chart.defaults.color = '#222';

      const points = (list) => list.map(([x, y]) => ({ x, y }));
      const zipPoints = (xs, ys) => xs.map((x, i) => ({ x, y: ys[i] }));

      const sup = { '-': '\u207B', '0': '\u2070', '1': '\u00B9', '2': '\u00B2', '3': '\u00B3', '4': '\u2074', '5': '\u2075' };
      function powerLabel(v) {
        const e = String(Math.round(Math.log10(v)));
        return '10' + e.split('').map((c) => sup[c]).join('');
      }

      // major ticks at each decade, minor ticks at 2..9
      function decadeTicks(scale) {
        const ticks = [];
        const lo = Math.floor(Math.log10(scale.min));
        const hi = Math.ceil(Math.log10(scale.max));
        for (let e = lo; e <= hi; e++) {
          for (let m = 1; m < 10; m++) {
            const v = m * Math.pow(10, e);
            if (v >= scale.min * 0.9999 && v <= scale.max * 1.0001) ticks.push({ value: v, major: m === 1 });
          }
        }
        scale.ticks = ticks;
      }

      function logAxis(cfg) {
        return {
          type: 'logarithmic',
          position: cfg.position,
          min: cfg.min,
          max: cfg.max,
          afterBuildTicks: decadeTicks,
          afterFit: (s) => {
            if (cfg.position === 'bottom') s.height = cfg.size;
            else s.width = cfg.size;
          },
          grid: { display: false, drawTicks: false },
          border: { display: false },
          ticks: {
            autoSkip: false,
            maxRotation: 0,
            padding: cfg.tickPad,
            font: { size: cfg.tickFont },
            callback: (v, i, t) => (t[i].major ? powerLabel(t[i].value) : ''),
          },
          title: {
            display: true,
            text: cfg.title,
            font: { size: cfg.titleFont },
            padding: { top: cfg.titlePad, bottom: 0 },
          },
        };
      }

      // frame around the plot area plus outward tick marks
      const frameTicks = {
        id: 'frameTicks',
        afterDatasetsDraw(chart) {
          const { ctx, chartArea: a, scales } = chart;
          ctx.save();
          ctx.strokeStyle = '#333';
          ctx.lineWidth = 1;
          for (const t of scales.x.ticks) {
            const px = Math.round(scales.x.getPixelForValue(t.value)) + 0.5;
            if (px < a.left - 1 || px > a.right + 1) continue;
            ctx.beginPath();
            ctx.moveTo(px, a.bottom);
            ctx.lineTo(px, a.bottom + (t.major ? 7 : 4));
            ctx.stroke();
          }
          for (const t of scales.y.ticks) {
            const py = Math.round(scales.y.getPixelForValue(t.value)) + 0.5;
            if (py < a.top - 1 || py > a.bottom + 1) continue;
            ctx.beginPath();
            ctx.moveTo(a.left, py);
            ctx.lineTo(a.left - (t.major ? 7 : 4), py);
            ctx.stroke();
          }
          ctx.strokeStyle = '#444';
          ctx.lineWidth = 1.5;
          ctx.strokeRect(a.left, a.top, a.right - a.left, a.bottom - a.top);
          ctx.restore();
        },
      };

      function drawMarker(ctx, style, x, y, r, color) {
        ctx.fillStyle = color;
        ctx.beginPath();
        if (style === 'triangle') {
          for (let k = 0; k < 3; k++) {
            const ang = (k * 2 * Math.PI) / 3;
            const px = x + Math.sin(ang) * r;
            const py = y - Math.cos(ang) * r;
            if (k === 0) ctx.moveTo(px, py);
            else ctx.lineTo(px, py);
          }
          ctx.closePath();
        } else {
          ctx.arc(x, y, r, 0, Math.PI * 2);
        }
        ctx.fill();
      }

      // legend box inside the plot area
      const insetLegend = {
        id: 'insetLegend',
        afterDatasetsDraw(chart, args, o) {
          const ctx = chart.ctx;
          const [bx, by, bw, bh] = o.box;
          ctx.save();
          ctx.beginPath();
          ctx.roundRect(bx, by, bw, bh, 5);
          ctx.fillStyle = 'rgba(255,255,255,0.8)';
          ctx.fill();
          ctx.strokeStyle = '#d4d4d4';
          ctx.lineWidth = 1;
          ctx.stroke();
          ctx.font = o.font;
          ctx.textBaseline = 'middle';
          ctx.textAlign = 'left';
          o.items.forEach((name, i) => {
            const ds = chart.data.datasets.find((d) => d.label === name);
            const y = o.rowY + i * o.rowGap;
            drawMarker(ctx, ds.pointStyle, o.markerX, y, ds.pointRadius, ds.backgroundColor);
            ctx.fillStyle = '#1e1e1e';
            ctx.fillText(name, o.textX, y);
          });
          ctx.restore();
        },
      };

      // names next to the solar-system planets
      const planetLabels = {
        id: 'planetLabels',
        afterDatasetsDraw(chart, args, o) {
          const ctx = chart.ctx;
          const meta = chart.getDatasetMeta(o.dataset);
          ctx.save();
          ctx.font = o.font;
          ctx.fillStyle = '#ff4500';
          ctx.textBaseline = 'middle';
          meta.data.forEach((pt, i) => {
            const [dx, dy, align] = o.offsets[i];
            ctx.textAlign = align;
            ctx.fillText(o.names[i], pt.x + dx, pt.y + dy);
          });
          ctx.restore();
        },
      };

      const dot = (label, data, color, r, order) => ({
        label, data, backgroundColor: color, pointStyle: 'circle',
        pointRadius: r, pointHoverRadius: r, borderWidth: 0, order,
      });
      const tri = (label, data, color, r, order) => ({
        label, data, backgroundColor: color, pointStyle: 'triangle',
        pointRadius: r, pointHoverRadius: r, borderWidth: 0, order,
      });

      new Chart(document.getElementById('massChart'), {
        type: 'scatter',
        data: {
          datasets: [
            dot('Radial Velocity', points(rvMass), '#000000', 3.3, 4),
            dot('Transit', points(transitMass), '#4169e1', 3.2, 5),
            dot('Imaging', points(imagingMass), '#ff4500', 2.8, 3),
            tri('Microlensing', points(microlensingMass), '#40e0d0', 5.8, 2),
            tri('Other', points(otherMass), '#800080', 5.8, 1),
            dot('Solar System', zipPoints(massPlanetPeriod, massPlanetMass), '#ff4500', 6.5, 0),
          ],
        },
        options: {
          responsive: false,
          devicePixelRatio: 1,
          animation: false,
          events: [],
          layout: { padding: { left: 0, top: 12, right: 18, bottom: 0 } },
          scales: {
            x: logAxis({ position: 'bottom', min: 0.1, max: 2.03e5, size: 80, tickPad: 4, tickFont: 21,
              title: 'Orbital Period [days]', titleFont: 26, titlePad: 1 }),
            y: logAxis({ position: 'left', min: 0.1, max: 40700, size: 109, tickPad: 12, tickFont: 21,
              title: 'Planet Mass or Minimum Mass [Earth Masses]', titleFont: 26, titlePad: 1 }),
          },
          plugins: {
            legend: { display: false },
            tooltip: { enabled: false },
            insetLegend: {
              box: [695, 532, 266, 186], items: massLegend, font: '23px "DejaVu Sans"',
              rowY: 550, rowGap: 36.2, markerX: 729, textX: 773,
            },
            planetLabels: {
              dataset: 5, names: massPlanetNames, font: '27px "DejaVu Sans"',
              offsets: [[-19, 0, 'right'], [1, -27, 'center'], [-26, -21, 'center'], [20, 0, 'left'],
                [17, 0, 'left'], [-19, 2, 'right'], [-15, -27, 'center']],
            },
          },
        },
        plugins: [frameTicks, insetLegend, planetLabels],
      });

      new Chart(document.getElementById('radiusChart'), {
        type: 'scatter',
        data: {
          datasets: [
            dot('Radial Velocity', points(rvRadius), '#000000', 2.8, 2),
            dot('Kepler', points(keplerRadius), '#66cdaa', 2.9, 4),
            dot('Other Transit', points(otherTransitRadius), '#4169e1', 2.9, 3),
            tri('Other', points(otherRadius), '#ff8000', 3.6, 1),
            dot('Solar System', zipPoints(radiusPlanetPeriod, radiusPlanetRadius), '#ff4500', 5.5, 0),
          ],
        },
        options: {
          responsive: false,
          devicePixelRatio: 1,
          animation: false,
          events: [],
          layout: { padding: { left: 0, top: 18, right: 12, bottom: 0 } },
          scales: {
            x: logAxis({ position: 'bottom', min: 0.1, max: 5070, size: 73, tickPad: 8, tickFont: 19.5,
              title: 'Orbital Period [days]', titleFont: 22.5, titlePad: 8 }),
            y: logAxis({ position: 'left', min: 0.3, max: 45, size: 83, tickPad: 8, tickFont: 19.5,
              title: 'Planet Radius [Earth Radii]', titleFont: 22.5, titlePad: 5 }),
          },
          plugins: {
            legend: { display: false },
            tooltip: { enabled: false },
            insetLegend: {
              box: [622, 29, 231, 130], items: radiusLegend, font: '20.5px "DejaVu Sans"',
              rowY: 47, rowGap: 30.7, markerX: 651, textX: 689,
            },
            planetLabels: {
              dataset: 4, names: radiusPlanetNames, font: '23.5px "DejaVu Sans"',
              offsets: [[-11, 0, 'right'], [-10, 0, 'right'], [0, -22, 'center'], [-15, 1, 'right'], [-15, -1, 'right']],
            },
          },
        },
        plugins: [frameTicks, insetLegend, planetLabels],
      });
    </script>
  </body>
</html>
